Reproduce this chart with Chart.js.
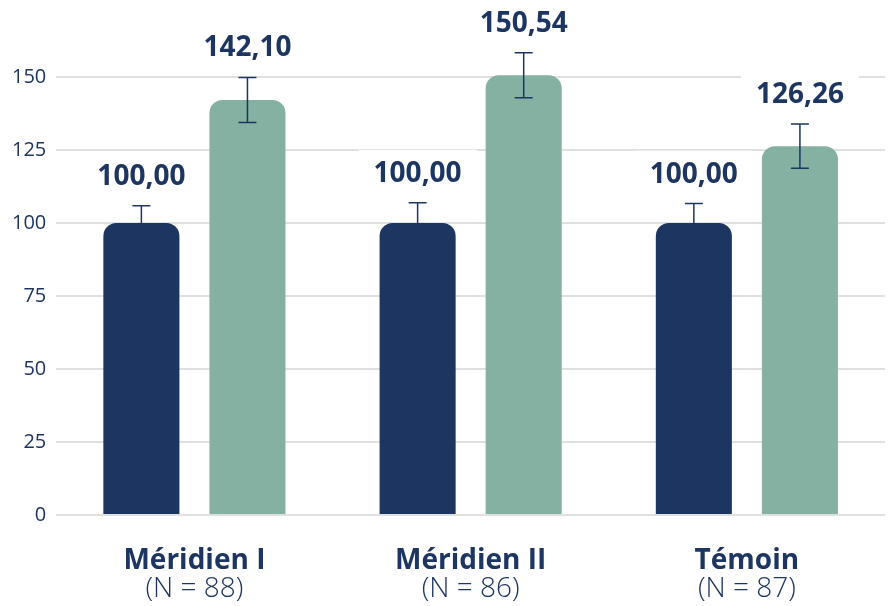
<!DOCTYPE html>
<html lang="fr">
<head>
<meta charset="utf-8">
<title>Indice</title>
<script src="https://cdn.jsdelivr.net/npm/chart.js@4"></script>
<style>
  html, body { margin: 0; padding: 0; background: #ffffff; }
  #wrap { width: 890px; height: 606px; }
</style>
</head>
<body>
<div id="wrap"><canvas id="myChart" width="890" height="606"></canvas></div>
<script>
// Données du graphique
var categories = ['Méridien I', 'Méridien II', 'Témoin'];
var effectifs = [88, 86, 87];
var valeursBase = [100.00, 100.00, 100.00];
var valeursTest = [142.10, 150.54, 126.26];
var erreursBase = [5.9, 6.9, 6.6];
var erreursTest = [7.7, 7.7, 7.6];
var ticksY = [0, 25, 50, 75, 100, 125, 150];

var BLEU = '#1d3661';
var VERT = '#84b1a2';
var POLICE = "'Open Sans', 'Noto Sans', sans-serif";
var DECALAGE = 29; // distance étiquette / haut de la barre d'erreur

function formatFr(v) {
    return v.toFixed(2).replace('.', ',');
}

var erreurs = [erreursBase, erreursTest];

// Barres d'erreur + étiquettes de valeur
var pluginErreurs = {
    id: 'barresErreur',
    beforeDatasetsDraw: function(chart) {
        // fond blanc derrière les étiquettes (coupe les lignes de grille)
        var ctx = chart.ctx;
        var y = chart.scales.y;
        ctx.save();
        ctx.font = 'bold 28px ' + POLICE;
        chart.data.datasets.forEach(function(ds, i) {
            var meta = chart.getDatasetMeta(i);
            meta.data.forEach(function(bar, j) {
                var haut = y.getPixelForValue(ds.data[j] + erreurs[i][j]);
                var txt = formatFr(ds.data[j]);
                var w = ctx.measureText(txt).width + 30;
                ctx.fillStyle = '#ffffff';
                ctx.fillRect(bar.x - w / 2, haut - DECALAGE - 24, w, 46);
            });
        });
        ctx.restore();
    },
    afterDatasetsDraw: function(chart) {
        var ctx = chart.ctx;
        var y = chart.scales.y;
        ctx.save();
        chart.data.datasets.forEach(function(ds, i) {
            var meta = chart.getDatasetMeta(i);
            meta.data.forEach(function(bar, j) {
                var v = ds.data[j];
                var e = erreurs[i][j];
                var yHaut = y.getPixelForValue(v + e);
                var yBas = y.getPixelForValue(v - e);
                ctx.strokeStyle = BLEU;
                ctx.lineWidth = 1.5;
                ctx.beginPath();
                ctx.moveTo(bar.x, yHaut);
                ctx.lineTo(bar.x, yBas);
                ctx.moveTo(bar.x - 9, yHaut);
                ctx.lineTo(bar.x + 9, yHaut);
                ctx.moveTo(bar.x - 9, yBas);
                ctx.lineTo(bar.x + 9, yBas);
                ctx.stroke();

                ctx.fillStyle = BLEU;
                ctx.font = 'bold 28px ' + POLICE;
                ctx.textAlign = 'center';
                ctx.textBaseline = 'middle';
                ctx.fillText(formatFr(v), bar.x, yHaut - DECALAGE);
            });
        });
        ctx.restore();
    },
    afterDraw: function(chart) {
        // libellés des catégories sur deux lignes
        var ctx = chart.ctx;
        var x = chart.scales.x;
        var bas = chart.chartArea.bottom;
        ctx.save();
        ctx.fillStyle = BLEU;
        ctx.textAlign = 'center';
        ctx.textBaseline = 'alphabetic';
        categories.forEach(function(nom, j) {
            var cx = x.getPixelForValue(j);
            ctx.font = 'bold 28px ' + POLICE;
            ctx.fillText(nom, cx, bas + 54);
            ctx.font = '300 28px ' + POLICE;
            ctx.fillText('(N = ' + effectifs[j] + ')', cx, bas + 82);
        });
        ctx.restore();
    }
};

var ctx = document.getElementById('myChart').getContext('2d');
var myChart = new Chart(ctx, {
    type: 'bar',
    data: {
        labels: categories,
        datasets: [{
            label: 'Base',
            data: valeursBase,
            backgroundColor: BLEU,
            borderRadius: { topLeft: 13, topRight: 13 },
            borderSkipped: 'bottom',
            categoryPercentage: 0.768,
            barPercentage: 0.717
        }, {
            label: 'Test',
            data: valeursTest,
            backgroundColor: VERT,
            borderRadius: { topLeft: 13, topRight: 13 },
            borderSkipped: 'bottom',
            categoryPercentage: 0.768,
            barPercentage: 0.717
        }]
    },
    options: {
        responsive: false,
        animation: false,
        layout: { padding: { left: 2, right: 5, top: 33, bottom: 83 } },
        plugins: {
            legend: { display: false },
            tooltip: { enabled: false }
        },
        scales: {
            x: {
                grid: { display: false },
                border: { display: false },
                ticks: { display: false }
            },
            y: {
                min: 0,
                max: 165,
                afterBuildTicks: function(axis) {
                    axis.ticks = ticksY.map(function(v) { return { value: v }; });
                },
                grid: { color: '#e0e0e0', lineWidth: 2, drawTicks: false },
                border: { display: false },
                ticks: {
                    color: BLEU,
                    padding: 10,
                    font: { family: POLICE, size: 20 }
                }
            }
        }
    },
    plugins: [pluginErreurs]
});
</script>
</body>
</html>
